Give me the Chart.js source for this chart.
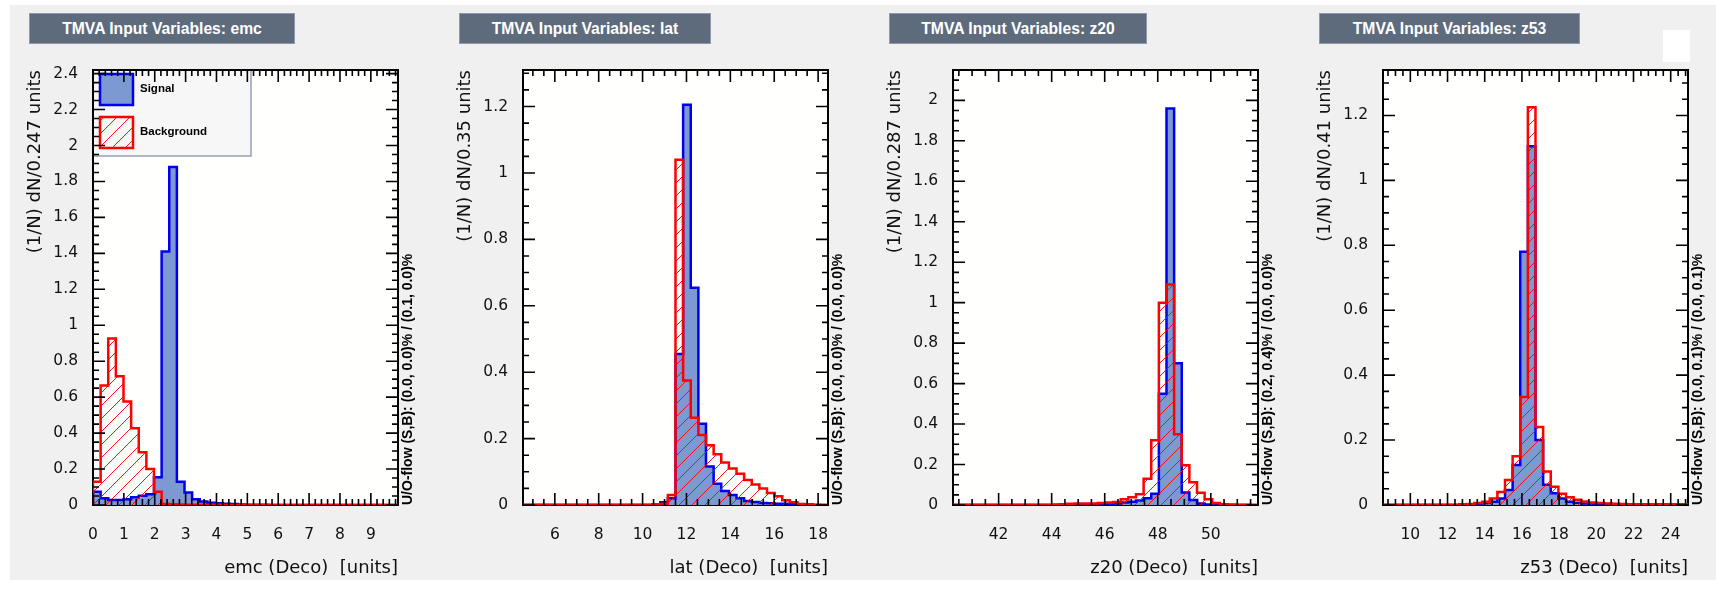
<!DOCTYPE html>
<html>
<head>
<meta charset="utf-8">
<title>TMVA Input Variables</title>
<script src="https://cdn.jsdelivr.net/npm/chart.js@4.4.1/dist/chart.umd.min.js"></script>
<style>
  html, body { margin: 0; padding: 0; background: #fff; overflow: hidden; }
  #page { position: relative; width: 1716px; height: 589px; overflow: hidden; }
  #bg { position: absolute; left: 10px; top: 5px; width: 1706px; height: 575px; background: #f0f0f0; }
  .pad { position: absolute; top: 0; width: 430px; height: 589px; }
  .titlebox { position: absolute; top: 13px; height: 31px; box-sizing: border-box; background: #5d6b7d;
    border: 1px solid #8d99aa; color: #fff; font: bold 15.7px "Liberation Sans", Arial, sans-serif;
    text-align: center; line-height: 29px; white-space: nowrap; }
  #corner { position: absolute; left: 1663px; top: 30px; width: 27px; height: 32px; background: #fff; }
</style>
</head>
<body>
<div id="page">
  <div id="bg"></div>
  <div id="corner"></div>
</div>
<script>
// --- data (40 bins per variable) ---
const emcRange = [0, 9.88];
const emcSignal = [0.074, 0.037, 0.028, 0.028, 0.032, 0.043, 0.052, 0.06, 0.154, 1.41,
  1.88, 0.13, 0.069, 0.032, 0.019, 0.013, 0.01, 0.007, 0.005, 0.003,
  0.002, 0.002, 0.001, 0, 0, 0, 0, 0, 0, 0,
  0, 0, 0, 0, 0, 0, 0, 0, 0, 0];
const emcBackground = [0.13, 0.665, 0.926, 0.716, 0.576, 0.427, 0.294, 0.2, 0.074, 0.006,
  0.004, 0.003, 0.002, 0.002, 0.001, 0.001, 0.001, 0, 0, 0,
  0, 0, 0, 0, 0, 0, 0, 0, 0, 0,
  0, 0, 0, 0, 0, 0, 0, 0, 0, 0];
const emcXTicks = [0, 1, 2, 3, 4, 5, 6, 7, 8, 9];
const emcYTicks = [0, 0.2, 0.4, 0.6, 0.8, 1, 1.2, 1.4, 1.6, 1.8, 2, 2.2, 2.4];
const emcYMax = 2.42;

const latRange = [4.55, 18.45];
const latSignal = [0, 0, 0, 0, 0, 0, 0, 0, 0, 0,
  0, 0, 0, 0, 0, 0, 0, 0.002, 0.008, 0.02,
  0.455, 1.205, 0.654, 0.245, 0.116, 0.064, 0.042, 0.03, 0.02, 0.012,
  0.009, 0.006, 0.005, 0.004, 0.004, 0.003, 0.002, 0.001, 0, 0];
const latBackground = [0.001, 0.001, 0.001, 0.001, 0.001, 0.001, 0.001, 0.001, 0.001, 0.001,
  0.001, 0.001, 0.001, 0.001, 0.001, 0.001, 0.001, 0.002, 0.004, 0.03,
  1.04, 0.375, 0.263, 0.211, 0.18, 0.153, 0.128, 0.11, 0.094, 0.075,
  0.062, 0.05, 0.036, 0.026, 0.014, 0.008, 0.003, 0.002, 0.001, 0];
const latXTicks = [6, 8, 10, 12, 14, 16, 18];
const latYTicks = [0, 0.2, 0.4, 0.6, 0.8, 1, 1.2];
const latYMax = 1.31;

const z20Range = [40.28, 51.78];
const z20Signal = [0, 0, 0, 0, 0, 0, 0, 0, 0, 0,
  0, 0, 0, 0, 0, 0, 0.001, 0.002, 0.003, 0.004,
  0.005, 0.008, 0.012, 0.016, 0.022, 0.033, 0.055, 0.55, 1.96, 0.7,
  0.062, 0.025, 0.008, 0.003, 0.001, 0, 0, 0, 0, 0];
const z20Background = [0.001, 0.001, 0.001, 0.001, 0.001, 0.001, 0.001, 0.001, 0.001, 0.001,
  0.001, 0.001, 0.001, 0.002, 0.004, 0.006, 0.007, 0.008, 0.008, 0.01,
  0.012, 0.015, 0.028, 0.038, 0.053, 0.13, 0.32, 1.0, 1.09, 0.35,
  0.197, 0.112, 0.06, 0.028, 0.01, 0.004, 0.002, 0.001, 0.001, 0];
const z20XTicks = [42, 44, 46, 48, 50];
const z20YTicks = [0, 0.2, 0.4, 0.6, 0.8, 1, 1.2, 1.4, 1.6, 1.8, 2];
const z20YMax = 2.15;

const z53Range = [8.53, 24.93];
const z53Signal = [0, 0, 0, 0, 0, 0, 0, 0, 0, 0,
  0.001, 0.002, 0.003, 0.006, 0.01, 0.02, 0.046, 0.123, 0.78, 1.105,
  0.2, 0.062, 0.036, 0.02, 0.01, 0.007, 0.005, 0.004, 0.003, 0.002,
  0.001, 0, 0, 0, 0, 0, 0, 0, 0, 0];
const z53Background = [0.001, 0.001, 0.001, 0.001, 0.001, 0.001, 0.001, 0.001, 0.001, 0.001,
  0.002, 0.003, 0.006, 0.01, 0.02, 0.04, 0.077, 0.15, 0.333, 1.225,
  0.24, 0.103, 0.056, 0.035, 0.024, 0.016, 0.011, 0.008, 0.006, 0.005,
  0.004, 0.003, 0.002, 0.002, 0.002, 0.002, 0.002, 0.002, 0.002, 0.002];
const z53XTicks = [10, 12, 14, 16, 18, 20, 22, 24];
const z53YTicks = [0, 0.2, 0.4, 0.6, 0.8, 1, 1.2];
const z53YMax = 1.34;

const panels = [
  { v: 'emc', range: emcRange, sig: emcSignal, bkg: emcBackground, xTicks: emcXTicks, yTicks: emcYTicks,
    yMax: emcYMax, binw: '0.247', flow: 'U/O-flow (S,B): (0.0, 0.0)% / (0.1, 0.0)%', xMinor: 0.2, legend: true },
  { v: 'lat', range: latRange, sig: latSignal, bkg: latBackground, xTicks: latXTicks, yTicks: latYTicks,
    yMax: latYMax, binw: '0.35', flow: 'U/O-flow (S,B): (0.0, 0.0)% / (0.0, 0.0)%', xMinor: 0.5 },
  { v: 'z20', range: z20Range, sig: z20Signal, bkg: z20Background, xTicks: z20XTicks, yTicks: z20YTicks,
    yMax: z20YMax, binw: '0.287', flow: 'U/O-flow (S,B): (0.2, 0.4)% / (0.0, 0.0)%', xMinor: 0.5 },
  { v: 'z53', range: z53Range, sig: z53Signal, bkg: z53Background, xTicks: z53XTicks, yTicks: z53YTicks,
    yMax: z53YMax, binw: '0.41', flow: 'U/O-flow (S,B): (0.0, 0.1)% / (0.0, 0.1)%', xMinor: 0.4 }
];

const titleWidths = [266, 252, 258, 261];
const SIG_LINE = '#0000ee', SIG_FILL = '#7d99d1', BKG_LINE = '#ff0000';

// histogram outline as step points along the bin edges
function histPoints(range, vals) {
  const [lo, hi] = range;
  const w = (hi - lo) / vals.length;
  const pts = [{ x: lo, y: 0 }];
  vals.forEach((v, i) => pts.push({ x: lo + i * w, y: v }));
  pts.push({ x: hi, y: vals[vals.length - 1] }, { x: hi, y: 0 });
  return pts;
}

function hatch(color) {
  const s = 13;
  const c = document.createElement('canvas');
  c.width = c.height = s;
  const g = c.getContext('2d');
  g.strokeStyle = color;
  g.lineWidth = 1;
  g.beginPath();
  g.moveTo(0, s); g.lineTo(s, 0);
  g.moveTo(-3, 3); g.lineTo(3, -3);
  g.moveTo(s - 3, s + 3); g.lineTo(s + 3, s - 3);
  g.stroke();
  return g.createPattern(c, 'repeat');
}
const bkgPattern = hatch('rgba(255,0,0,0.9)');

const fmt = v => String(Math.round(v * 100) / 100);

function eachTick(min, max, step, fn) {
  const k0 = Math.ceil(min / step - 1e-6);
  for (let k = k0; k * step <= max + 1e-6; k++) fn(k * step);
}

function drawLegend(chart) {
  const { ctx, chartArea: a } = chart;
  const [bkg, sig] = chart.data.datasets;
  const L = a.left, T = a.top, W = 158, H = 86;
  ctx.fillStyle = '#f7f7f7';
  ctx.fillRect(L, T, W, H);
  ctx.strokeStyle = '#95a0b0';
  ctx.lineWidth = 1.5;
  ctx.strokeRect(L, T, W, H);
  const rows = [[sig, 'Signal', T + 4], [bkg, 'Background', T + 47]];
  rows.forEach(([ds, label, y0]) => {
    ctx.fillStyle = ds.backgroundColor;
    ctx.fillRect(L + 7, y0, 33, 31);
    ctx.strokeStyle = ds.borderColor;
    ctx.lineWidth = 2.5;
    ctx.strokeRect(L + 7, y0, 33, 31);
    ctx.fillStyle = '#000';
    ctx.font = 'bold 11.5px "Liberation Sans", Arial, sans-serif';
    ctx.textAlign = 'left';
    ctx.textBaseline = 'middle';
    ctx.fillText(label, L + 47, y0 + 15);
  });
}

const tmvaPlugin = {
  id: 'tmva',
  beforeDatasetsDraw(chart, args, opts) {
    const { ctx, chartArea: a } = chart;
    ctx.save();
    ctx.fillStyle = '#fffffd';
    ctx.fillRect(a.left, a.top, a.width, a.height);
    if (opts.legend) drawLegend(chart);
    ctx.strokeStyle = '#000';
    ctx.lineWidth = 2;
    ctx.strokeRect(a.left, a.top, a.width, a.height);
    ctx.restore();
  },
  afterDatasetsDraw(chart, args, opts) {
    const { ctx, chartArea: a, scales: { x, y } } = chart;
    const isMajor = (list, v) => list.some(m => Math.abs(m.value - v) < 1e-6);
    ctx.save();
    ctx.strokeStyle = '#000';
    ctx.lineWidth = 1.6;
    ctx.beginPath();
    eachTick(x.min, x.max, opts.xMinor, v => {
      const len = isMajor(x.ticks, v) ? 12 : 6;
      const px = x.getPixelForValue(v);
      ctx.moveTo(px, a.bottom); ctx.lineTo(px, a.bottom - len);
      ctx.moveTo(px, a.top); ctx.lineTo(px, a.top + len);
    });
    eachTick(y.min, y.max, opts.yMinor, v => {
      const len = isMajor(y.ticks, v) ? 12 : 6;
      const py = y.getPixelForValue(v);
      ctx.moveTo(a.left, py); ctx.lineTo(a.left + len, py);
      ctx.moveTo(a.right, py); ctx.lineTo(a.right - len, py);
    });
    ctx.stroke();
    // under/overflow note on the right
    ctx.translate(a.right + 10, a.bottom);
    ctx.rotate(-Math.PI / 2);
    ctx.font = 'bold 14px "Liberation Sans", Arial, sans-serif';
    ctx.fillStyle = '#000';
    ctx.textAlign = 'left';
    ctx.textBaseline = 'middle';
    ctx.fillText(opts.flow, 0, 0);
    ctx.restore();
  }
};

const page = document.getElementById('page');

panels.forEach((p, i) => {
  const pad = document.createElement('div');
  pad.className = 'pad';
  pad.style.left = (430 * i) + 'px';
  const canvas = document.createElement('canvas');
  canvas.width = 430;
  canvas.height = 589;
  pad.appendChild(canvas);
  page.appendChild(pad);

  const tb = document.createElement('div');
  tb.className = 'titlebox';
  tb.style.left = (430 * i + 29) + 'px';
  tb.style.width = titleWidths[i] + 'px';
  tb.textContent = 'TMVA Input Variables: ' + p.v;
  page.appendChild(tb);

  new Chart(canvas, {
    type: 'line',
    data: {
      datasets: [
        {
          label: 'Background',
          data: histPoints(p.range, p.bkg),
          borderColor: BKG_LINE,
          backgroundColor: bkgPattern,
          borderWidth: 2.5,
          fill: 'origin',
          stepped: 'before',
          pointRadius: 0,
          order: 0
        },
        {
          label: 'Signal',
          data: histPoints(p.range, p.sig),
          borderColor: SIG_LINE,
          backgroundColor: SIG_FILL,
          borderWidth: 2.5,
          fill: 'origin',
          stepped: 'before',
          pointRadius: 0,
          order: 1
        }
      ]
    },
    options: {
      responsive: false,
      animation: false,
      events: [],
      layout: { padding: { top: 70, right: 32, bottom: 0, left: 0 } },
      plugins: {
        legend: { display: false },
        tooltip: { enabled: false },
        tmva: { legend: !!p.legend, xMinor: p.xMinor, yMinor: 0.05, flow: p.flow }
      },
      scales: {
        x: {
          type: 'linear',
          min: p.range[0],
          max: p.range[1],
          afterBuildTicks: s => { s.ticks = p.xTicks.map(v => ({ value: v })); },
          afterFit: s => { s.height = 84; },
          grid: { display: false },
          border: { display: false },
          ticks: {
            autoSkip: false, maxRotation: 0, padding: 13, color: '#111',
            font: { family: 'DejaVu Sans', size: 15.5 },
            callback: fmt
          },
          title: {
            display: true, text: p.v + ' (Deco)  [units]', align: 'end', color: '#111',
            font: { family: 'DejaVu Sans', size: 18 },
            padding: { top: 0, bottom: 10 }
          }
        },
        y: {
          type: 'linear',
          min: 0,
          max: p.yMax,
          afterBuildTicks: s => { s.ticks = p.yTicks.map(v => ({ value: v })); },
          afterFit: s => { s.width = 93; },
          grid: { display: false },
          border: { display: false },
          ticks: {
            autoSkip: false, padding: 7, color: '#111',
            font: { family: 'DejaVu Sans', size: 15.5 },
            callback: fmt
          },
          title: {
            display: true, text: '(1/N) dN/' + p.binw + ' units', align: 'end', color: '#111',
            font: { family: 'DejaVu Sans', size: 18 },
            padding: { top: 25, bottom: 0 }
          }
        }
      }
    },
    plugins: [tmvaPlugin]
  });
});
</script>
</body>
</html>
